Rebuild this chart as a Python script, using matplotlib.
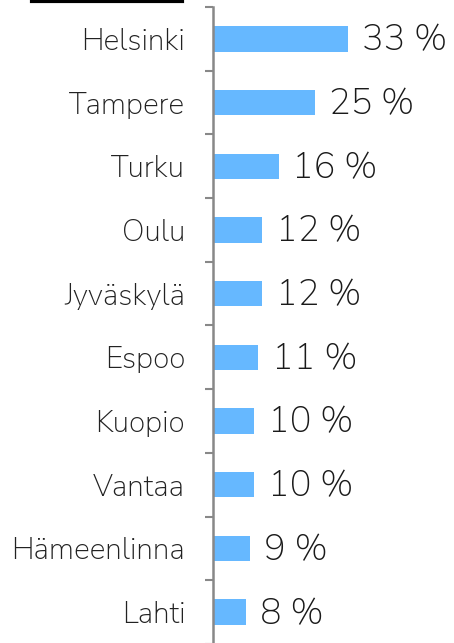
import matplotlib.pyplot as plt
from matplotlib.lines import Line2D

cities = ['Helsinki', 'Tampere', 'Turku', 'Oulu', 'Jyväskylä', 'Espoo',
          'Kuopio', 'Vantaa', 'Hämeenlinna', 'Lahti']
values = [33, 25, 16, 12, 12, 11, 10, 10, 9, 8]

plt.rcParams['font.family'] = ['Nunito Sans', 'DejaVu Sans']

fig = plt.figure(figsize=(4.54, 6.43), dpi=100)
ax = fig.add_axes([213 / 454, -1 / 643, 241 / 454, 637 / 643])

y = list(range(len(cities)))
ax.barh(y, values, height=0.4, color='#66b8ff')
ax.set_ylim(len(cities) - 0.5, -0.5)
ax.set_xlim(0, 58.8)

for yi, v in zip(y, values):
    ax.annotate(f'{v} %', (v, yi), xytext=(10, -1.5), textcoords='offset points',
                va='center', ha='left', fontsize=26, fontweight=300,
                color='#1a1a1a', clip_on=False)

ax.set_yticks(y)
ax.set_yticklabels(cities, fontsize=21.5, fontweight=300, color='#222222')
ax.tick_params(axis='y', which='major', length=0, pad=20)
ax.set_yticks([i - 0.5 for i in range(len(cities) + 1)], minor=True)
ax.tick_params(axis='y', which='minor', length=6, width=1.5, color='#888888')
ax.set_xticks([])

for s in ['top', 'right', 'bottom']:
    ax.spines[s].set_visible(False)
ax.spines['left'].set_color('#888888')
ax.spines['left'].set_linewidth(1.8)

fig.add_artist(Line2D([32 / 454, 182 / 454], [1 - 1 / 643, 1 - 1 / 643],
                      color='black', linewidth=3, transform=fig.transFigure))

fig.savefig('out.png', dpi=100)
